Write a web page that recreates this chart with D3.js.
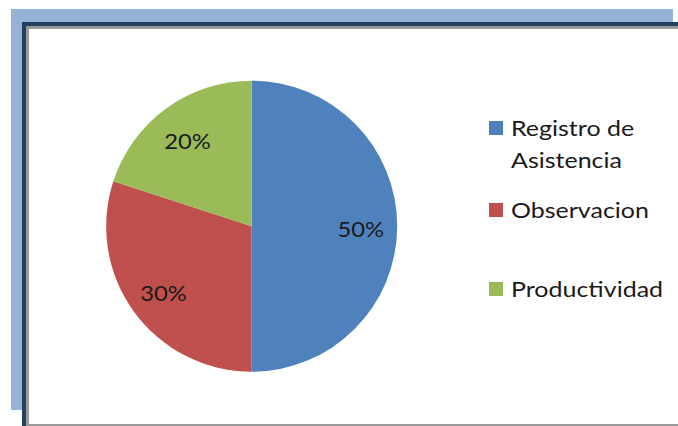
<!DOCTYPE html>
<html>
<head>
<meta charset="utf-8">
<script src="https://cdn.jsdelivr.net/npm/d3@7"></script>
<style>
  html, body { margin: 0; padding: 0; background: #ffffff; }
  svg { display: block; }
  text { font-family: Lato, "Open Sans", sans-serif; fill: #1a1a1a; }
</style>
</head>
<body>
<svg id="chart" width="678" height="426"></svg>
<script>
// Share of each evaluation method
const categories = ["Registro de Asistencia", "Observacion", "Productividad"];
const legendLines = [["Registro de", "Asistencia"], ["Observacion"], ["Productividad"]];
const values = [50, 30, 20];
const sliceColors = ["#4f81bd", "#c0504d", "#9bbb59"];

const svg = d3.select("#chart");

// Decorative frame: light blue backdrop, navy border, grey inner edge
svg.append("rect").attr("x", 11).attr("y", 9).attr("width", 662).attr("height", 401).attr("fill", "#95b3d7");
svg.append("rect").attr("x", 22).attr("y", 22).attr("width", 670).attr("height", 420).attr("fill", "#243f60");
svg.append("rect").attr("x", 26).attr("y", 26).attr("width", 670).attr("height", 420).attr("fill", "#9a9a9a");
svg.append("rect").attr("x", 29).attr("y", 29).attr("width", 670).attr("height", 395).attr("fill", "#ffffff");

const cx = 251.7, cy = 226.2, r = 145.5;
const g = svg.append("g").attr("transform", `translate(${cx},${cy})`);

const pie = d3.pie().sort(null).value(d => d)(values);
const arc = d3.arc().innerRadius(0).outerRadius(r);
const color = d3.scaleOrdinal().domain(categories).range(sliceColors);

g.selectAll("path.slice")
  .data(pie)
  .join("path")
  .attr("class", "slice")
  .attr("d", arc)
  .attr("fill", (d, i) => color(categories[i]));

// Percent labels placed inside each slice
const labelArc = d3.arc().innerRadius(r * 0.75).outerRadius(r * 0.75);
g.selectAll("text.pct")
  .data(pie)
  .join("text")
  .attr("class", "pct")
  .attr("transform", d => {
    const [x, y] = labelArc.centroid(d);
    return `translate(${x},${y + 3}) scale(1.08,1)`;
  })
  .attr("text-anchor", "middle")
  .attr("dy", "0.36em")
  .style("font-size", "22px")
  .text(d => d3.format(".0%")(d.data / d3.sum(values)));

// Legend
const legendY = [136, 218, 297];
const legend = svg.append("g");
categories.forEach((c, i) => {
  const row = legend.append("g").attr("transform", `translate(489,${legendY[i]})`);
  row.append("rect").attr("x", 0).attr("y", -15).attr("width", 14).attr("height", 14).attr("fill", color(c));
  const t = row.append("text")
    .attr("transform", "translate(22,0) scale(1.19,1)")
    .style("font-size", "21px");
  legendLines[i].forEach((line, j) => {
    t.append("tspan").attr("x", 0).attr("dy", j === 0 ? 0 : 32).text(line);
  });
});
</script>
</body>
</html>
